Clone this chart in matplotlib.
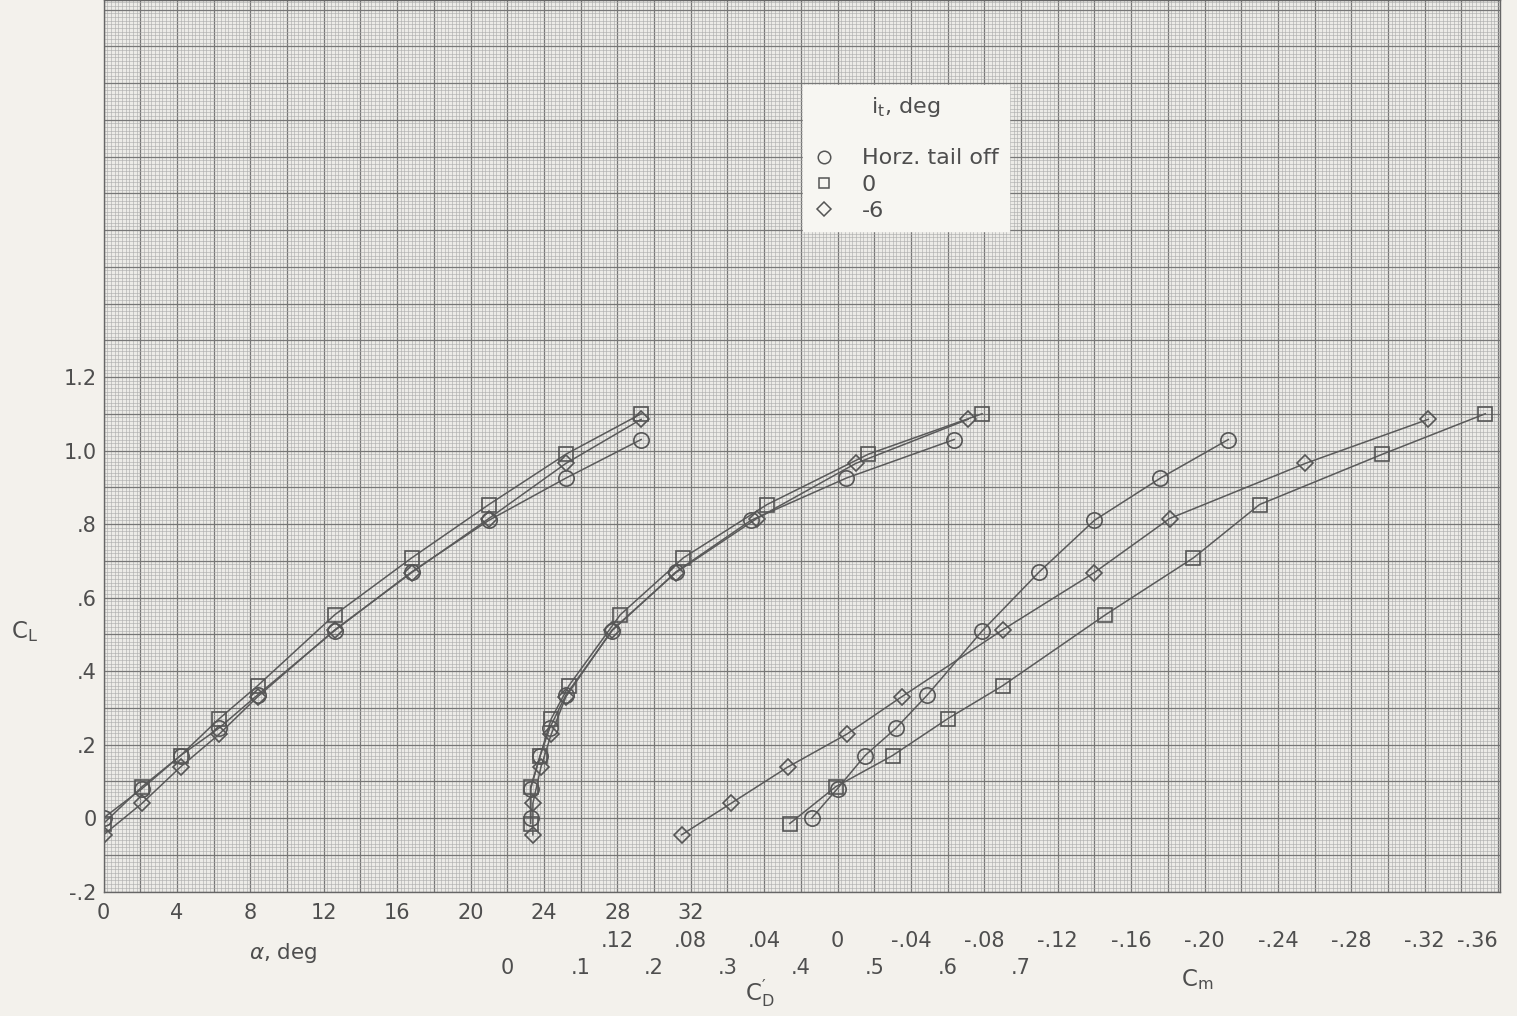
import matplotlib
matplotlib.use("Agg")
import matplotlib.pyplot as plt
from matplotlib.lines import Line2D
from matplotlib.ticker import FixedLocator, FixedFormatter, MultipleLocator, NullFormatter

# ---- data -------------------------------------------------------------
alpha = [0.0, 2.1, 4.2, 6.3, 8.4, 12.6, 16.8, 21.0, 25.2, 29.3]

cl_off = [0.0, 0.08, 0.17, 0.245, 0.335, 0.51, 0.67, 0.81, 0.925, 1.03]
cl_0 = [-0.015, 0.085, 0.17, 0.27, 0.36, 0.553, 0.708, 0.853, 0.99, 1.10]
cl_m6 = [-0.046, 0.04, 0.139, 0.228, 0.33, 0.512, 0.668, 0.815, 0.965, 1.085]

cd_off = [0.032, 0.032, 0.045, 0.058, 0.080, 0.143, 0.230, 0.332, 0.462, 0.609]
cd_0 = [0.032, 0.032, 0.045, 0.060, 0.084, 0.154, 0.240, 0.354, 0.492, 0.647]
cd_m6 = [0.035, 0.035, 0.046, 0.060, 0.080, 0.143, 0.230, 0.340, 0.475, 0.628]

cm_off = [0.014, 0.000, -0.015, -0.032, -0.049, -0.079, -0.110, -0.140, -0.176, -0.213]
cm_0 = [0.026, 0.001, -0.030, -0.060, -0.090, -0.146, -0.194, -0.230, -0.297, -0.353]
cm_m6 = [0.085, 0.058, 0.027, -0.005, -0.035, -0.090, -0.140, -0.181, -0.255, -0.322]

series_labels = ["Horz. tail off", "0", "-6"]
series_markers = ["o", "s", "D"]

alpha_ticks = [0, 4, 8, 12, 16, 20, 24, 28, 32]
cm_ticks = [0.12, 0.08, 0.04, 0.0, -0.04, -0.08, -0.12, -0.16, -0.20, -0.24, -0.28, -0.32, -0.36]
cm_tick_labels = [".12", ".08", ".04", "0", "-.04", "-.08", "-.12", "-.16", "-.20", "-.24", "-.28", "-.32", "-.36"]
cd_ticks = [0.0, 0.1, 0.2, 0.3, 0.4, 0.5, 0.6, 0.7]
cd_tick_labels = ["0", ".1", ".2", ".3", ".4", ".5", ".6", ".7"]
cl_ticks = [-0.2, 0.0, 0.2, 0.4, 0.6, 0.8, 1.0, 1.2]
cl_tick_labels = ["-.2", "0", ".2", ".4", ".6", ".8", "1.0", "1.2"]

# ---- styling ----------------------------------------------------------
paper = "#f3f1ec"
ink = "#4e4e4e"
plt.rcParams["font.family"] = ["DejaVu Sans"]
plt.rcParams["mathtext.fontset"] = "dejavusans"

W, H = 1517, 1016
fig = plt.figure(figsize=(W / 100, H / 100), dpi=100, facecolor=paper)

# grid area in pixels
left_px, right_px, bottom_px, top_px = 103.5, 1500.0, 891.5, 0.0
ax = fig.add_axes([left_px / W, 1 - bottom_px / H,
                   (right_px - left_px) / W, (bottom_px - top_px) / H])
ax.set_facecolor("#ecebe7")

x_min, x_max = 0.0, (right_px - left_px) / 18.35
ax.set_xlim(x_min, x_max)
ax.set_ylim(-0.2, 2.226)

# graph-paper grid
ax.xaxis.set_major_locator(MultipleLocator(2))
ax.xaxis.set_minor_locator(MultipleLocator(0.2))
ax.yaxis.set_major_locator(MultipleLocator(0.1))
ax.yaxis.set_minor_locator(MultipleLocator(0.01))
ax.grid(which="minor", color="#acacac", linewidth=0.42)
ax.grid(which="major", color="#777777", linewidth=0.9)
ax.set_axisbelow(True)


def alpha_fmt(v, pos=None):
    r = round(v)
    if abs(v - r) < 1e-6 and r % 4 == 0 and 0 <= r <= 32:
        return f"{r:d}"
    return ""


def cl_fmt(v, pos=None):
    for t, lab in zip(cl_ticks, cl_tick_labels):
        if abs(v - t) < 1e-6:
            return lab
    return ""


ax.xaxis.set_major_formatter(plt.FuncFormatter(alpha_fmt))
ax.yaxis.set_major_formatter(plt.FuncFormatter(cl_fmt))
ax.xaxis.set_minor_formatter(NullFormatter())
ax.yaxis.set_minor_formatter(NullFormatter())
ax.tick_params(which="both", length=0)
ax.tick_params(axis="x", pad=8, labelsize=15, labelcolor=ink)
ax.tick_params(axis="y", pad=5, labelsize=15, labelcolor=ink)
for s in ax.spines.values():
    s.set_color("#666666")
    s.set_linewidth(1.0)

# secondary scales sharing the same CL axis
ax_cd = ax.twiny()
ax_cd.set_xlim((x_min - 22) / 40, (x_max - 22) / 40)
ax_cm = ax.twiny()
ax_cm.set_xlim((40 - x_min) / 100, (40 - x_max) / 100)

for a, ticks, labels, pad in [(ax_cd, cd_ticks, cd_tick_labels, 48),
                              (ax_cm, cm_ticks, cm_tick_labels, 28.5)]:
    a.xaxis.set_ticks_position("bottom")
    a.xaxis.set_label_position("bottom")
    a.xaxis.set_major_locator(FixedLocator(ticks))
    a.xaxis.set_major_formatter(FixedFormatter(labels))
    a.tick_params(axis="x", length=0, pad=pad, labelsize=15, labelcolor=ink)
    for s in a.spines.values():
        s.set_visible(False)

line_kw = dict(color="#5a5a5a", linewidth=1.1, markerfacecolor="none",
               markeredgecolor="#555555", markeredgewidth=1.2)
msize = {"o": 11, "s": 10, "D": 8.5}

lift = [cl_off, cl_0, cl_m6]
drag = [cd_off, cd_0, cd_m6]
pitch = [cm_off, cm_0, cm_m6]
for cl, cd, cm, mk in zip(lift, drag, pitch, series_markers):
    ax.plot(alpha, cl, marker=mk, markersize=msize[mk], **line_kw)
    ax_cd.plot(cd, cl, marker=mk, markersize=msize[mk], **line_kw)
    ax_cm.plot(cm, cl, marker=mk, markersize=msize[mk], **line_kw)

# axis titles
ax.set_xlabel(r"$\alpha$, deg", fontsize=15.5, color=ink, va="center")
ax.xaxis.set_label_coords((283 - left_px) / (right_px - left_px),
                          (bottom_px - 953) / bottom_px)
ax_cd.set_xlabel(r"$\mathregular{C^{\prime}_{D}}$", fontsize=16.5, color=ink, va="center")
ax_cd.xaxis.set_label_coords((760 - left_px) / (right_px - left_px),
                             (bottom_px - 993) / bottom_px)
ax_cm.set_xlabel(r"$\mathregular{C_m}$", fontsize=16.5, color=ink, va="center")
ax_cm.xaxis.set_label_coords((1197 - left_px) / (right_px - left_px),
                             (bottom_px - 980) / bottom_px)
ax.set_ylabel(r"$\mathregular{C_L}$", fontsize=16.5, color=ink, rotation=0,
              ha="center", va="center")
ax.yaxis.set_label_coords((25 - left_px) / (right_px - left_px),
                          (bottom_px - 632) / bottom_px)

# legend
handles = [Line2D([], [], linestyle="none", marker=m,
                  markersize={"o": 9, "s": 7.5, "D": 7}[m],
                  markerfacecolor="none", markeredgecolor="#555555",
                  markeredgewidth=1.1) for m in series_markers]
leg = ax_cm.legend(handles, series_labels, title=r"i$_\mathregular{t}$, deg" + "\n",
                   loc="upper left",
                   bbox_to_anchor=((803 - left_px) / (right_px - left_px),
                                   1 - 85 / bottom_px),
                   fontsize=16, title_fontsize=16, frameon=True,
                   fancybox=False, framealpha=1.0, borderpad=0.45,
                   labelspacing=0.28, handletextpad=1.2, handlelength=1.0,
                   borderaxespad=0)
leg.get_frame().set_facecolor("#f7f6f2")
leg.get_frame().set_edgecolor("#f7f6f2")
for t in leg.get_texts():
    t.set_color(ink)
leg.get_title().set_color(ink)

# keep the last pitching-moment label inside the figure
fig.canvas.draw()
ax_cm.get_xticklabels()[-1].set_horizontalalignment("right")
ax_cm.get_xticklabels()[-1].set_x(ax_cm.get_xticklabels()[-1].get_position()[0])

fig.savefig("out.png", dpi=100, facecolor=paper)
